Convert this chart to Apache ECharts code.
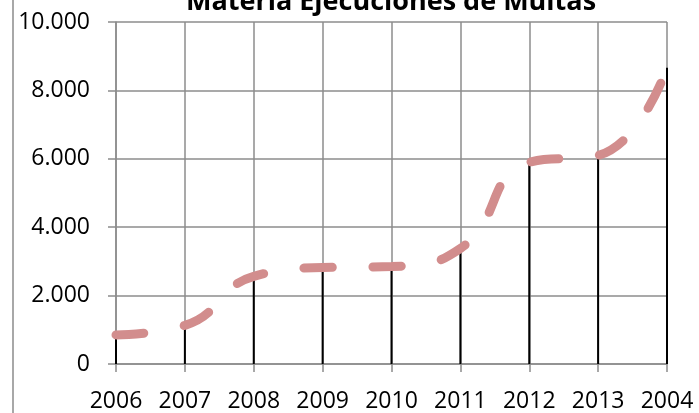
<!DOCTYPE html>
<html>
<head>
<meta charset="utf-8">
<script src="https://cdn.jsdelivr.net/npm/echarts@6/dist/echarts.min.js"></script>
<style>
    html, body { margin: 0; padding: 0; background: #fff; }
    #chart { width: 699px; height: 413px; }
</style>
</head>
<body>
<div id="chart"></div>
<script>
// años (el último viene así en el original)
var years = ['2006', '2007', '2008', '2009', '2010', '2011', '2012', '2013', '2004'];
// ejecuciones de multas por año
var ejecuciones = [850, 1130, 2560, 2820, 2850, 3380, 5900, 6100, 8660];
// marcas del eje y
var yTicks = [0, 2000, 4000, 6000, 8000, 10000];

var gridColor = '#8c8c8c';
var fontFamily = '"Open Sans", "Noto Sans", sans-serif';

function miles(v) {
    return String(v).replace(/\B(?=(\d{3})+(?!\d))/g, '.');
}

var myChart = echarts.init(document.getElementById('chart'));
var option = {
    animation: false,
    title: {
        text: 'Materia Ejecuciones de Multas',
        left: 386,
        textAlign: 'center',
        top: -16,
        textStyle: {
            fontFamily: fontFamily,
            fontSize: 27,
            fontWeight: 'bold',
            color: '#000'
        }
    },
    graphic: [
        {
            type: 'rect',
            silent: true,
            shape: {x: 13, y: -20, width: 800, height: 500},
            style: {fill: 'none', stroke: gridColor, lineWidth: 1.5}
        }
    ],
    grid: {
        left: 116,
        right: 32,
        top: 22,
        bottom: 47,
        containLabel: false
    },
    xAxis: {
        type: 'category',
        data: years,
        boundaryGap: false,
        axisLine: {lineStyle: {color: gridColor, width: 1.5}},
        axisTick: {show: true, length: 8, lineStyle: {color: gridColor, width: 1.5}},
        axisLabel: {
            margin: 26,
            fontFamily: fontFamily,
            fontSize: 23,
            color: '#000',
            interval: 0
        },
        splitLine: {show: true, lineStyle: {color: gridColor, width: 1.5}}
    },
    yAxis: {
        type: 'value',
        min: yTicks[0],
        max: yTicks[yTicks.length - 1],
        interval: yTicks[1] - yTicks[0],
        axisLine: {show: true, lineStyle: {color: gridColor, width: 1.5}},
        axisTick: {show: true, length: 8, lineStyle: {color: gridColor, width: 1.5}},
        axisLabel: {
            margin: 26,
            fontFamily: fontFamily,
            fontSize: 23,
            color: '#000',
            formatter: miles
        },
        splitLine: {show: true, lineStyle: {color: gridColor, width: 1.5}}
    },
    series: [
        {
            // líneas de unión con el eje
            name: 'caida',
            type: 'bar',
            data: ejecuciones,
            barWidth: 2,
            itemStyle: {color: '#000'},
            z: 2
        },
        {
            name: 'Ejecuciones',
            type: 'line',
            data: ejecuciones,
            smooth: 0.5,
            symbol: 'none',
            lineStyle: {
                color: '#d28d8d',
                width: 9,
                type: [28, 41],
                cap: 'round'
            },
            z: 3
        }
    ]
};
myChart.setOption(option);
</script>
</body>
</html>
